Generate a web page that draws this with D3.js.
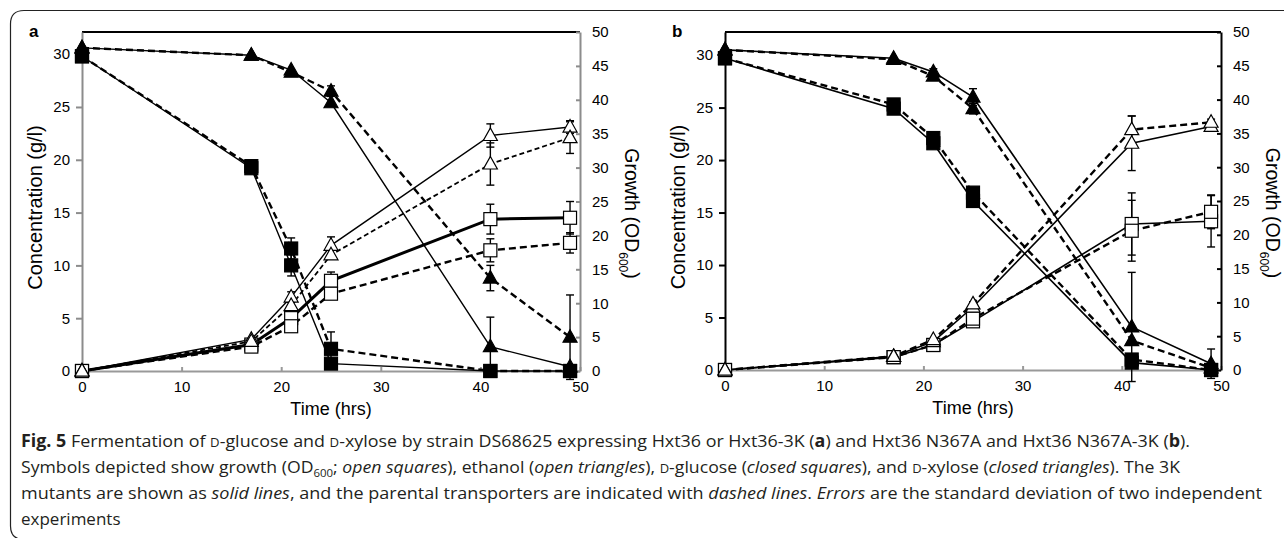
<!DOCTYPE html>
<html>
<head>
<meta charset="utf-8">
<script src="https://cdn.jsdelivr.net/npm/d3@7"></script>
<style>
  html, body { margin: 0; padding: 0; background: #fff; }
  svg { display: block; }
</style>
</head>
<body>
<div id="canvas"></div>
<script>
// sampling times (hrs), same for both panels
const timeHrs = [0, 17, 21, 25, 41, 49];
const xTicks = [0, 10, 20, 30, 40, 50];
const leftTicks = [0, 5, 10, 15, 20, 25, 30];
const rightTicks = [0, 5, 10, 15, 20, 25, 30, 35, 40, 45, 50];

// panel a : Hxt36-3K (solid) / Hxt36 (dashed)
const aGrowth3K = [0, 3.9, 7.8, 13.3, 22.4, 22.6];
const aGrowth3KErr = [0, 0, 0, 1.3, 2.2, 2.4];
const aGrowthWT = [0, 3.6, 6.6, 11.4, 17.8, 18.9];
const aGrowthWTErr = [0, 0, 0, 0, 1.7, 1.5];
const aEthanol3K = [0, 3.0, 7.0, 11.9, 22.3, 23.1];
const aEthanol3KErr = [0, 0, 0.5, 0.8, 1.1, 0.6];
const aEthanolWT = [0, 2.8, 6.2, 11.0, 19.6, 22.1];
const aEthanolWTErr = [0, 0, 0, 0, 2.0, 1.5];
const aGlucose3K = [29.8, 19.2, 10.0, 0.7, 0, 0];
const aGlucose3KErr = [0, 0, 1.0, 0, 0, 0];
const aGlucoseWT = [29.8, 19.4, 11.6, 2.1, 0, 0];
const aGlucoseWTErr = [0, 0, 1.0, 1.6, 0, 0];
const aXylose3K = [30.6, 29.9, 28.5, 25.4, 2.3, 0.4];
const aXylose3KErr = [0, 0, 0, 0, 2.8, 0];
const aXyloseWT = [30.6, 29.9, 28.3, 26.5, 8.8, 3.2];
const aXyloseWTErr = [0, 0, 0, 0.5, 1.2, 4.0];

// panel b : Hxt36 N367A-3K (solid) / Hxt36 N367A (dashed)
const bGrowth3K = [0, 1.9, 3.7, 7.2, 21.6, 22.0];
const bGrowth3KErr = [0, 0, 0, 0.6, 4.6, 3.8];
const bGrowthWT = [0, 1.9, 3.7, 7.6, 20.6, 23.4];
const bGrowthWTErr = [0, 0, 0, 0, 4.5, 2.5];
const bEthanol3K = [0, 1.3, 2.7, 6.0, 21.6, 23.2];
const bEthanol3KErr = [0, 0, 0, 0.5, 2.6, 0];
const bEthanolWT = [0, 1.3, 2.9, 6.3, 22.9, 23.6];
const bEthanolWTErr = [0, 0, 0, 0, 1.3, 0.3];
const bGlucose3K = [29.7, 24.9, 21.6, 16.1, 0.7, 0];
const bGlucose3KErr = [0, 0, 0, 0, 0, 0];
const bGlucoseWT = [29.7, 25.3, 22.1, 16.9, 1.0, 0];
const bGlucoseWTErr = [0, 0, 0, 0, 0, 0];
const bXylose3K = [30.5, 29.7, 28.4, 26.0, 4.1, 0.6];
const bXylose3KErr = [0, 0, 0.3, 0.8, 5.2, 1.4];
const bXyloseWT = [30.5, 29.6, 28.0, 24.9, 2.8, 0.2];
const bXyloseWTErr = [0, 0, 0, 0.5, 0, 0];

const W = 1284, H = 538;
const tickFont = "15px 'Liberation Sans', Arial, sans-serif";

const svg = d3.select("#canvas").append("svg")
	.attr("width", W).attr("height", H)
	.style("font-family", "'Liberation Sans', Arial, sans-serif");

// outer frame (only top and left edge are visible)
svg.append("path")
	.attr("d", "M1300,10.5 H24 Q10.5,10.5 10.5,24 V526 Q10.5,539.5 24,539.5 H1300")
	.attr("fill", "none").attr("stroke", "#222").attr("stroke-width", 1.2);

const panels = [
	{
		label: "a", left: 82, right: 580, top: 32, bottom: 371, yMax: 32.1,
		leftColor: "#8c8c8c", rightColor: "#8c8c8c",
		series: [
			{ v: aGrowth3K, e: aGrowth3KErr, ax: "R", m: "sq", fill: "#fff", dash: null, w: 3 },
			{ v: aGrowthWT, e: aGrowthWTErr, ax: "R", m: "sq", fill: "#fff", dash: "7,4", w: 2.4 },
			{ v: aEthanol3K, e: aEthanol3KErr, ax: "L", m: "tri", fill: "#fff", dash: null, w: 1.4 },
			{ v: aEthanolWT, e: aEthanolWTErr, ax: "L", m: "tri", fill: "#fff", dash: "5,3", w: 1.8 },
			{ v: aGlucose3K, e: aGlucose3KErr, ax: "L", m: "sq", fill: "#000", dash: null, w: 1.4 },
			{ v: aGlucoseWT, e: aGlucoseWTErr, ax: "L", m: "sq", fill: "#000", dash: "7,4", w: 2.4 },
			{ v: aXylose3K, e: aXylose3KErr, ax: "L", m: "tri", fill: "#000", dash: null, w: 1.4 },
			{ v: aXyloseWT, e: aXyloseWTErr, ax: "L", m: "tri", fill: "#000", dash: "7,4", w: 2.4 }
		]
	},
	{
		label: "b", left: 725, right: 1221, top: 32, bottom: 370, yMax: 32.2,
		leftColor: "#000", rightColor: "#000",
		series: [
			{ v: bGrowth3K, e: bGrowth3KErr, ax: "R", m: "sq", fill: "#fff", dash: null, w: 1.6 },
			{ v: bGrowthWT, e: bGrowthWTErr, ax: "R", m: "sq", fill: "#fff", dash: "7,4", w: 2.4 },
			{ v: bEthanol3K, e: bEthanol3KErr, ax: "L", m: "tri", fill: "#fff", dash: null, w: 1.6 },
			{ v: bEthanolWT, e: bEthanolWTErr, ax: "L", m: "tri", fill: "#fff", dash: "7,4", w: 2.4 },
			{ v: bGlucose3K, e: bGlucose3KErr, ax: "L", m: "sq", fill: "#000", dash: null, w: 1.6 },
			{ v: bGlucoseWT, e: bGlucoseWTErr, ax: "L", m: "sq", fill: "#000", dash: "7,4", w: 2.4 },
			{ v: bXylose3K, e: bXylose3KErr, ax: "L", m: "tri", fill: "#000", dash: null, w: 1.6 },
			{ v: bXyloseWT, e: bXyloseWTErr, ax: "L", m: "tri", fill: "#000", dash: "7,4", w: 2.4 }
		]
	}
];

panels.forEach(p => drawPanel(p));

function drawPanel(p){
	const x = d3.scaleLinear().domain([0, 50]).range([p.left, p.right]);
	const yL = d3.scaleLinear().domain([0, p.yMax]).range([p.bottom, p.top]);
	const yR = d3.scaleLinear().domain([0, 50]).range([p.bottom, p.top]);
	const g = svg.append("g");

	// top border
	g.append("line")
		.attr("x1", p.left).attr("x2", p.right)
		.attr("y1", p.top).attr("y2", p.top)
		.attr("stroke", "#000").attr("stroke-width", 2);

	const ax = (sel, color) => {
		sel.selectAll("path, line").attr("stroke", color).attr("stroke-width", 2);
		sel.selectAll("text").style("font", tickFont).attr("fill", "#000");
	};

	g.append("g").attr("transform", `translate(0,${p.bottom})`)
		.call(d3.axisBottom(x).tickValues(xTicks).tickSizeInner(-4).tickSizeOuter(0).tickPadding(10))
		.call(s => ax(s, "#999"));

	g.append("g").attr("transform", `translate(${p.left},0)`)
		.call(d3.axisLeft(yL).tickValues(leftTicks).tickSizeInner(6).tickSizeOuter(0).tickPadding(6))
		.call(s => ax(s, p.leftColor));

	g.append("g").attr("transform", `translate(${p.right},0)`)
		.call(d3.axisRight(yR).tickValues(rightTicks).tickSizeInner(-4).tickSizeOuter(0).tickPadding(12))
		.call(s => ax(s, p.rightColor));

	// axis titles
	const midY = (p.top + p.bottom) / 2;
	g.append("text")
		.attr("transform", `translate(${p.left - 47},${midY + 6}) rotate(-90)`)
		.attr("text-anchor", "middle").attr("dy", "0.35em")
		.style("font-size", "20px")
		.text("Concentration (g/l)");

	const rt = g.append("text")
		.attr("transform", `translate(${p.right + 52},${midY + 12}) rotate(90)`)
		.attr("text-anchor", "middle").attr("dy", "0.35em")
		.style("font-size", "19.5px");
	rt.append("tspan").text("Growth (OD");
	rt.append("tspan").attr("dy", 6).style("font-size", "12px").text("600");
	rt.append("tspan").attr("dy", -6).text(")");

	g.append("text")
		.attr("x", (p.left + p.right) / 2).attr("y", p.bottom + 44)
		.attr("text-anchor", "middle")
		.style("font-size", "18px")
		.text("Time (hrs)");

	g.append("text")
		.attr("x", p.left - 53).attr("y", p.top + 5)
		.style("font-size", "17px").style("font-weight", "bold")
		.text(p.label);

	const yOf = s => (s.ax === "R" ? yR : yL);

	// lines
	p.series.forEach(s => {
		const y = yOf(s);
		const line = d3.line().x((d, i) => x(timeHrs[i])).y(d => y(d));
		g.append("path")
			.datum(s.v)
			.attr("d", line)
			.attr("fill", "none")
			.attr("stroke", "#000")
			.attr("stroke-width", s.w)
			.attr("stroke-dasharray", s.dash);
	});

	// error bars
	p.series.forEach(s => {
		const y = yOf(s);
		const pts = s.v.map((d, i) => ({ t: timeHrs[i], v: d, e: s.e[i] })).filter(d => d.e > 0);
		const eg = g.append("g").attr("stroke", "#000").attr("stroke-width", 1.4);
		pts.forEach(d => {
			eg.append("line").attr("x1", x(d.t)).attr("x2", x(d.t)).attr("y1", y(d.v - d.e)).attr("y2", y(d.v + d.e));
			[d.v - d.e, d.v + d.e].forEach(c => {
				eg.append("line").attr("x1", x(d.t) - 4).attr("x2", x(d.t) + 4).attr("y1", y(c)).attr("y2", y(c));
			});
		});
	});

	// markers
	p.series.forEach(s => {
		const y = yOf(s);
		s.v.forEach((d, i) => {
			const cx = x(timeHrs[i]), cy = y(d);
			if (s.m === "sq") {
				g.append("rect")
					.attr("x", cx - 6.5).attr("y", cy - 6.5)
					.attr("width", 13).attr("height", 13)
					.attr("fill", s.fill).attr("stroke", "#000").attr("stroke-width", 1.2);
			} else {
				g.append("path")
					.attr("d", `M${cx},${cy - 7.5} L${cx + 7},${cy + 5} L${cx - 7},${cy + 5} Z`)
					.attr("fill", s.fill).attr("stroke", "#000").attr("stroke-width", 1.2);
			}
		});
	});
}

// caption
const cap = svg.append("g").style("font-family", "'Open Sans', 'Noto Sans', sans-serif").style("font-size", "17px").attr("fill", "#231f20");
const capLines = [
	[["b", "Fig. 5"], ["n", "  Fermentation of "], ["sc", "D"], ["n", "-glucose and "], ["sc", "D"], ["n", "-xylose by strain DS68625 expressing Hxt36 or Hxt36-3K ("], ["b", "a"], ["n", ") and Hxt36 N367A and Hxt36 N367A-3K ("], ["b", "b"], ["n", ")."]],
	[["n", "Symbols depicted show growth (OD"], ["sub", "600"], ["n2", "; "], ["i", "open squares"], ["n", "), ethanol ("], ["i", "open triangles"], ["n", "), "], ["sc", "D"], ["n", "-glucose ("], ["i", "closed squares"], ["n", "), and "], ["sc", "D"], ["n", "-xylose ("], ["i", "closed triangles"], ["n", "). The 3K"]],
	[["n", "mutants are shown as "], ["i", "solid lines"], ["n", ", and the parental transporters are indicated with "], ["i", "dashed lines"], ["n", ". "], ["i", "Errors"], ["n", " are the standard deviation of two independent"]],
	[["n", "experiments"]]
];
const capEnds = [1190, 1180, 1262, null];
capLines.forEach((parts, li) => {
	const t = cap.append("text").attr("x", 21).attr("y", 447 + li * 26);
	parts.forEach(([k, str]) => {
		const ts = t.append("tspan").text(str);
		if (k === "b") ts.style("font-weight", "bold");
		if (k === "i") ts.style("font-style", "italic");
		if (k === "sc") ts.style("font-size", "12.5px");
		if (k === "sub") ts.style("font-size", "11px").attr("dy", 4);
		if (k === "n2") ts.attr("dy", -4);
	});
	if (capEnds[li]) t.attr("textLength", capEnds[li] - 21).attr("lengthAdjust", "spacingAndGlyphs");
});
</script>
</body>
</html>
